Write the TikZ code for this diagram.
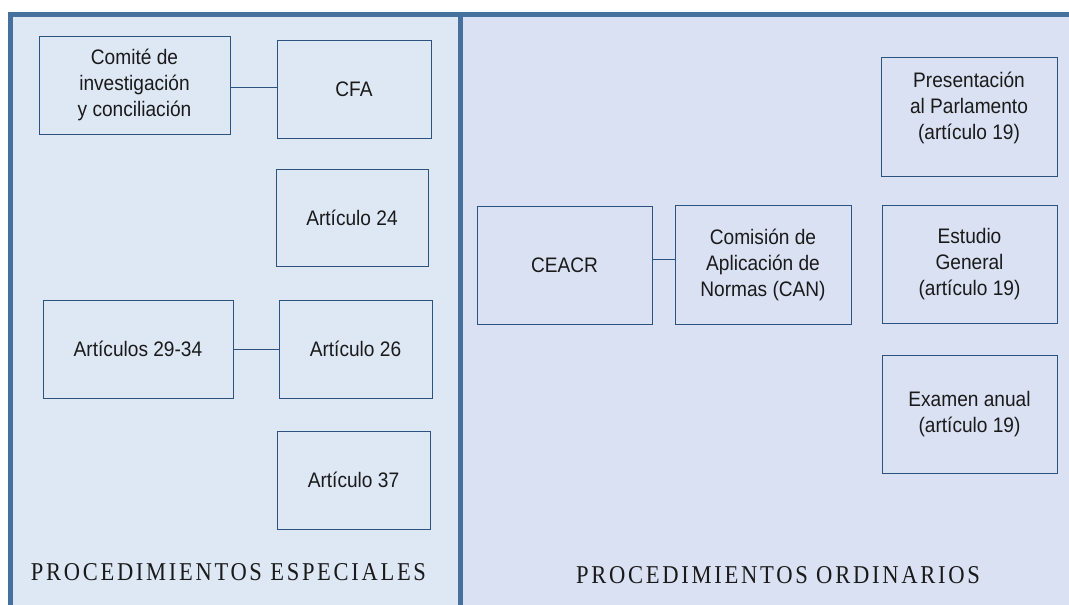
\documentclass[tikz,border=0pt]{standalone}
\usepackage{fontspec}
\setmainfont{Liberation Sans}[FakeStretch=0.91]
\newfontfamily\labfont[LetterSpace=12]{Liberation Serif}
\usetikzlibrary{positioning,calc}
\definecolor{frame}{HTML}{46719E}
\definecolor{leftbg}{HTML}{DEE8F5}
\definecolor{rightbg}{HTML}{D9E1F2}
\definecolor{boxline}{HTML}{2C5380}
\definecolor{txt}{HTML}{1A1A1A}
\tikzset{
  box/.style={draw=boxline, line width=1pt, inner sep=0pt, align=center,
    text=txt, font=\fontsize{21}{26}\selectfont},
  plain/.style={inner sep=0pt, align=center, text=txt, font=\fontsize{21}{26}\selectfont},
  link/.style={draw=boxline, line width=1pt},
  sect/.style={inner sep=0pt, text=txt}
}
\begin{document}
\begin{tikzpicture}[x=1pt,y=-1pt]
\useasboundingbox (0,0) rectangle (1069,605);
\fill[white] (0,0) rectangle (1069,605);
\fill[leftbg] (10.5,14.5) rectangle (460.5,605);
\fill[rightbg] (460.5,14.5) rectangle (1069,605);
\draw[frame, line width=5pt] (10.5,605) -- (10.5,14.5) -- (1069,14.5);
\draw[frame, line width=5pt] (460.5,14.5) -- (460.5,605);

% left panel
\node[box, minimum width=191pt, minimum height=98pt] (com) at (134.5,85) {Comité de\\investigación\\y conciliación};
\node[box, minimum width=154pt, minimum height=98pt] (cfa) at (354,89) {CFA};
\node[box, minimum width=152pt, minimum height=97pt] (a24) at (352,217.5) {Artículo 24};
\node[box, minimum width=190pt, minimum height=98pt] (a29) at (138,349) {Artículos 29-34};
\node[box, minimum width=153pt, minimum height=98pt] (a26) at (355.5,349) {Artículo 26};
\node[box, minimum width=153pt, minimum height=98pt] (a37) at (353.5,480) {Artículo 37};
\draw[link] ([yshift=-2pt]com.east) -- ([yshift=-2pt]com.east -| cfa.west);
\draw[link] (a29.east) -- (a26.west);

% right panel
\node[box, minimum width=175pt, minimum height=118pt] (cea) at (564.5,265) {CEACR};
\node[box, minimum width=176pt, minimum height=119pt] (can) at (763,264.5) {Comisión de\\Aplicación de\\Normas (CAN)};
\draw[link] ([yshift=6pt]cea.east) -- ([yshift=6pt]cea.east -| can.west);
\node[box, minimum width=176pt, minimum height=119pt] (pres) at (969,116.5) {};
\node[plain] (prest) at (969,108) {Presentación\\al Parlamento\\(artículo 19)};
\node[box, minimum width=175pt, minimum height=118pt] (est) at (969.5,264) {Estudio\\General\\(artículo 19)};
\node[box, minimum width=175pt, minimum height=118pt] (exa) at (969.5,414) {Examen anual\\(artículo 19)};

% section labels
\node[sect] (esp) at (228.5,572) {\resizebox{395pt}{17pt}{\labfont PROCEDIMIENTOS ESPECIALES}};
\node[sect] (ord) at (778,575.5) {\resizebox{404pt}{17pt}{\labfont PROCEDIMIENTOS ORDINARIOS}};
\end{tikzpicture}
\end{document}
